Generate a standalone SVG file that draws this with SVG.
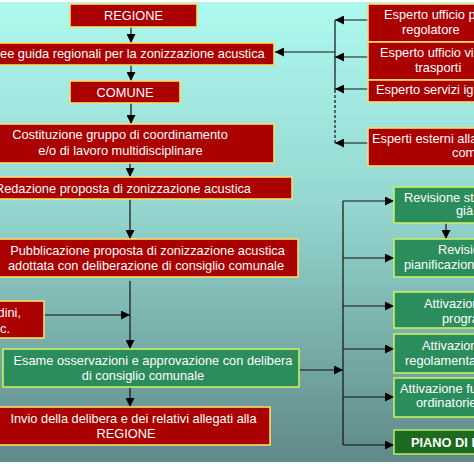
<svg xmlns="http://www.w3.org/2000/svg" width="474" height="474" viewBox="0 0 474 474">
<defs>
<linearGradient id="bg" x1="0" y1="0" x2="0" y2="1">
<stop offset="0" stop-color="#aef9ef"/>
<stop offset="0.45" stop-color="#94d6cf"/>
<stop offset="1" stop-color="#5f8988"/>
</linearGradient>
<marker id="ah" viewBox="0 0 10 10" refX="10" refY="5" markerWidth="9" markerHeight="9" markerUnits="userSpaceOnUse" orient="auto">
<path d="M0,0 L10,5 L0,10 Z" fill="#000"/>
</marker>
</defs>
<style>
.r{fill:#ab0000;stroke:#f7dc6a;stroke-width:1.6}
.g{fill:#2b8c5c;stroke:#c6ef62;stroke-width:1.6}
.dg{fill:#1b6a1e;stroke:#b2e66a;stroke-width:1.6}
text{font-family:"Liberation Sans",Arial,sans-serif;font-size:12.8px;fill:#fff}
.m{text-anchor:middle}
.e{text-anchor:end}
.b{font-weight:bold}
.c{fill:none;stroke:#111;stroke-width:1.2}
</style>
<rect x="0" y="2" width="474" height="460" fill="url(#bg)"/>
<rect x="0" y="462" width="474" height="12" fill="#fff"/>
<rect x="0" y="0" width="474" height="2" fill="#fff"/>

<g id="connectors">
<line class="c" x1="131" y1="27" x2="131" y2="43" marker-end="url(#ah)"/>
<line class="c" x1="131" y1="65" x2="131" y2="81" marker-end="url(#ah)"/>
<line class="c" x1="131" y1="103" x2="131" y2="124" marker-end="url(#ah)"/>
<line class="c" x1="130" y1="163" x2="130" y2="177" marker-end="url(#ah)"/>
<line class="c" x1="130" y1="199" x2="130" y2="239" marker-end="url(#ah)"/>
<line class="c" x1="130" y1="281" x2="130" y2="349" marker-end="url(#ah)"/>
<line class="c" x1="44" y1="315" x2="130" y2="315" marker-end="url(#ah)"/>
<line class="c" x1="130" y1="387" x2="130" y2="407" marker-end="url(#ah)"/>
<line class="c" x1="335" y1="52" x2="275" y2="52" marker-end="url(#ah)"/>
<line class="c" x1="335" y1="20" x2="335" y2="90"/>
<line class="c" x1="335" y1="90" x2="335" y2="143" stroke-dasharray="3,2"/>
<line class="c" x1="368" y1="20" x2="335" y2="20" marker-end="url(#ah)"/>
<line class="c" x1="368" y1="57" x2="335" y2="57" marker-end="url(#ah)"/>
<line class="c" x1="368" y1="89" x2="335" y2="89" marker-end="url(#ah)"/>
<line class="c" x1="368" y1="143" x2="335" y2="143" marker-end="url(#ah)"/>
<line class="c" x1="299" y1="370" x2="343" y2="370" marker-end="url(#ah)"/>
<line class="c" x1="343" y1="201" x2="343" y2="445"/>
<line class="c" x1="343" y1="201" x2="394" y2="201" marker-end="url(#ah)"/>
<line class="c" x1="343" y1="258" x2="394" y2="258" marker-end="url(#ah)"/>
<line class="c" x1="343" y1="306" x2="394" y2="306" marker-end="url(#ah)"/>
<line class="c" x1="343" y1="349" x2="394" y2="349" marker-end="url(#ah)"/>
<line class="c" x1="343" y1="397" x2="394" y2="397" marker-end="url(#ah)"/>
<line class="c" x1="343" y1="445" x2="394" y2="445" marker-end="url(#ah)"/>
<line class="c" x1="446" y1="223" x2="446" y2="239" marker-end="url(#ah)"/>
</g>

<g id="regione"><rect class="r" x="70" y="4" width="127" height="23"/><text class="m" x="133.5" y="20">REGIONE</text></g>
<g id="linee"><rect class="r" x="-20" y="43" width="294" height="22"/><text x="-17" y="58">Linee guida regionali per la zonizzazione acustica</text></g>
<g id="comune"><rect class="r" x="70" y="81" width="110" height="22"/><text class="m" x="125" y="97">COMUNE</text></g>
<g id="costituzione"><rect class="r" x="-20" y="124" width="294" height="39"/><text class="m" x="120" y="139">Costituzione gruppo di coordinamento</text><text class="m" x="120.5" y="155">e/o di lavoro multidisciplinare</text></g>
<g id="redazione"><rect class="r" x="-20" y="177" width="312" height="22"/><text class="e" x="251" y="193">Redazione proposta di zonizzazione acustica</text></g>
<g id="pubblicazione"><rect class="r" x="-20" y="239" width="318" height="38"/><text class="m" x="147.5" y="255">Pubblicazione proposta di zonizzazione acustica</text><text class="m" x="146" y="270">adottata con deliberazione di consiglio comunale</text></g>
<g id="osservazioni"><rect class="r" x="-20" y="301" width="64" height="37"/><text class="e" x="21" y="317">cittadini,</text><text class="e" x="10" y="333">ecc.</text></g>
<g id="esame"><rect class="g" x="3" y="349" width="296" height="38"/><text class="m" x="153" y="365">Esame osservazioni e approvazione con delibera</text><text class="m" x="143" y="380">di consiglio comunale</text></g>
<g id="invio"><rect class="r" x="-20" y="407" width="290" height="38"/><text class="m" x="133.5" y="423">Invio della delibera e dei relativi allegati alla</text><text class="m" x="126" y="438">REGIONE</text></g>

<g id="esperto-pr"><rect class="r" x="368" y="4" width="120" height="38"/><text x="384" y="19">Esperto ufficio piano</text><text x="402" y="34">regolatore</text></g>
<g id="esperto-vt"><rect class="r" x="368" y="42" width="120" height="38"/><text x="380" y="57">Esperto ufficio viabilità e</text><text x="415" y="72">trasporti</text></g>
<g id="esperto-ig"><rect class="r" x="368" y="80" width="120" height="22"/><text x="376" y="94">Esperto servizi igiene</text></g>
<g id="esperti-esterni"><rect class="r" x="368" y="128" width="120" height="38"/><text x="372" y="143">Esperti esterni alla amministrazione</text><text x="452" y="157">comunale</text></g>

<g id="revisione-urb"><rect class="g" x="394" y="187" width="100" height="36"/><text x="404" y="202">Revisione strumenti</text><text x="456" y="215">già adottati</text></g>
<g id="revisione-pian"><rect class="g" x="394" y="239" width="100" height="38"/><text x="438" y="254">Revisione strumenti</text><text x="404" y="269">pianificazione di settore</text></g>
<g id="attivazione-prog"><rect class="g" x="394" y="292" width="100" height="36"/><text x="424" y="308">Attivazione strumenti</text><text x="442" y="323">programmazione</text></g>
<g id="attivazione-reg"><rect class="g" x="394" y="334" width="100" height="39"/><text x="422" y="350">Attivazione strumenti</text><text x="405" y="365">regolamentazione</text></g>
<g id="attivazione-fun"><rect class="g" x="394" y="378" width="100" height="39"/><text x="400" y="393">Attivazione funzioni</text><text x="416" y="407">ordinatorie</text></g>
<g id="piano"><rect class="dg" x="394" y="430" width="100" height="24"/><text class="b" x="411" y="447">PIANO DI RISANAMENTO</text></g>
</svg>
